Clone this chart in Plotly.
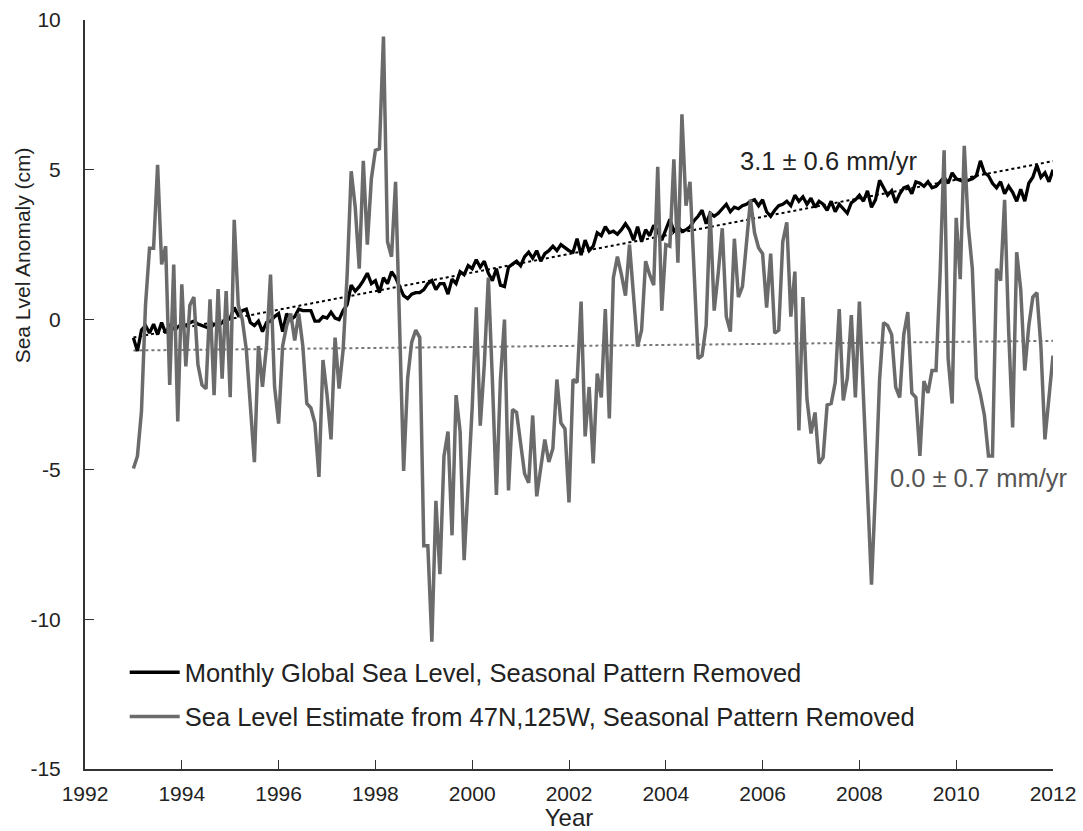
import plotly.graph_objects as go

# monthly values, Jan 1993 .. Jan 2012
global_sl = [
    -0.61, -1.05, -0.35, -0.2, -0.45, -0.15, -0.5, -0.1, -0.45, -0.2,
    -0.3, -0.25, -0.15, -0.2, -0.1, -0.05, -0.15, -0.2, -0.25, -0.3,
    -0.15, -0.2, -0.1, -0.05, 0.05, 0.4, 0.15, 0.3, 0.35, -0.1,
    -0.2, -0.05, -0.4, -0.1, -0.05, 0.1, 0.2, -0.4, 0.2, 0.0,
    0.1, 0.35, 0.3, 0.3, 0.3, -0.05, -0.05, 0.1, 0.05, 0.25,
    0.05, 0.0, 0.3, 0.5, 1.15, 0.95, 1.1, 1.3, 1.55, 1.2,
    1.3, 0.9, 1.4, 1.2, 1.6, 1.4, 1.1, 0.8, 0.7, 0.85,
    0.9, 0.9, 1.0, 1.2, 1.3, 1.0, 1.2, 1.2, 0.85, 1.35,
    1.2, 1.6, 1.5, 1.8, 1.7, 2.0, 1.75, 1.95, 1.55, 1.3,
    1.7, 1.15, 1.1, 1.75, 1.85, 1.95, 1.8, 2.1, 2.25, 2.05,
    2.3, 1.95, 2.2, 2.3, 2.45, 2.3, 2.5, 2.4, 2.3, 2.25,
    2.7, 2.15, 2.65, 2.3, 2.45, 2.9, 2.8, 3.1, 2.9, 2.95,
    2.85, 3.0, 3.2, 3.0, 2.65, 3.1, 2.6, 3.0, 2.8, 3.15,
    2.95, 2.65, 3.0, 3.35, 2.95, 3.1, 2.95, 3.0, 3.1, 3.3,
    3.45, 3.65, 3.2, 3.55, 3.45, 3.55, 3.7, 3.85, 3.6, 3.75,
    3.7, 3.8, 3.85, 3.95, 4.0, 3.8, 4.0, 3.6, 3.45, 3.65,
    3.8, 3.85, 3.95, 3.8, 4.15, 3.95, 4.1, 3.85, 4.05, 3.75,
    3.95, 3.85, 3.65, 3.95, 3.6, 3.85, 3.7, 3.55, 3.9, 4.0,
    4.15, 3.95, 4.3, 3.75, 4.0, 4.65, 4.4, 4.15, 4.3, 3.9,
    4.2, 4.4, 4.45, 4.2, 4.6, 4.55, 4.45, 4.6, 4.4, 4.45,
    4.6, 4.75, 4.55, 4.9, 4.7, 4.65, 4.6, 4.65, 4.7, 4.8,
    5.3, 4.9, 4.8, 4.55, 4.4, 4.6, 4.2, 4.45, 4.25, 3.95,
    4.35, 3.95, 4.55, 4.75, 5.15, 4.75, 4.9, 4.6, 5.0,
]

local_sl = [
    -4.97, -4.56, -3.06, 0.48, 2.38, 2.38, 5.17, 1.84, 2.45, -2.18,
    1.84, -3.40, 1.18, -1.56, 0.48, 0.75, -1.5, -2.18, -2.31, 0.68,
    -2.52, 1.02, -1.97, 0.95, -2.59, 3.33, 0.48, 0.0, -1.0, -2.8,
    -4.76, -0.88, -2.24, -0.88, 1.50, -2.24, -3.47, -0.88, -0.2, 0.2,
    -0.7, 0.2, -0.88, -2.8, -2.95, -3.45, -5.25, -1.35, -2.5, -4.0,
    -0.6, -2.3, -1.0, 1.5, 4.95, 3.75, 1.7, 5.3, 2.5, 4.7,
    5.65, 5.7, 9.45, 2.6, 2.1, 4.6, -0.75, -5.05, -1.95, -0.75,
    -0.35, -0.6, -7.55, -7.55, -10.75, -6.05, -8.5, -4.56, -3.74, -7.2,
    -2.52, -3.74, -8.03, -5.4, -2.93, 0.41, -3.54, -1.5, 1.4, -2.0,
    -5.85, -2.0, 0.0, -5.7, -3.0, -3.1, -4.2, -5.15, -5.45, -3.2,
    -5.9, -4.9, -4.0, -4.75, -4.3, -2.0, -3.45, -3.65, -6.1, -2.0,
    -2.1, 0.6, -3.9, -2.25, -4.8, -1.8, -2.6, 0.35, -3.3, 1.4,
    2.1, 1.5, 0.8, 2.5, 0.8, -0.9, -0.35, 1.95, 1.5, 1.15,
    5.1, 0.3, 2.5, 2.45, 5.35, 1.9, 6.85, 3.8, 4.6, 1.5,
    -1.3, -1.2, -0.2, 3.6, 0.3, 1.55, 3.05, 0.1, -0.4, 2.7,
    0.75, 1.1, 2.65, 4.0, 2.9, 2.4, 2.2, 0.4, 2.2, -0.45,
    -0.35, 2.6, 3.25, 0.1, 1.6, -3.7, 0.75, -2.65, -3.8, -3.1,
    -4.8, -4.6, -2.85, -2.8, -2.1, 0.35, -2.7, -1.95, 0.15, -2.6,
    0.6, -2.5, -5.5, -8.85, -5.65, -2.0, -0.1, -0.2, -0.5, -2.25,
    -2.6, -0.5, 0.25, -2.45, -2.6, -4.55, -2.05, -2.45, -1.7, -1.7,
    1.5, 5.65, -1.3, -2.8, 3.4, 1.35, 5.8, 3.1, 1.7, -1.95,
    -2.5, -3.2, -4.55, -4.55, 1.7, 1.3, 4.0, -0.35, -3.6, 2.25,
    1.0, -1.7, -0.2, 0.75, 0.9, -0.9, -4.0, -2.5, -1.2,
]

# time axis in decimal years (monthly steps)
months = [1993 + i / 12 for i in range(len(global_sl))]

trend_years = [1993, 2012]
global_trend = [-0.6, 5.29]
local_trend = [-1.03, -0.71]

year_ticks = list(range(1992, 2013, 2))
level_ticks = [-15, -10, -5, 0, 5, 10]
level_labels = ["-15", "-10", "-5", "0", "5", "10"]  # plain hyphen like the original

FONT = "Liberation Sans, Arial, sans-serif"

fig = go.Figure()

fig.add_trace(go.Scatter(x=trend_years, y=local_trend, mode="lines",
                         line=dict(color="#777777", width=2, dash="dot"),
                         showlegend=False))
fig.add_trace(go.Scatter(x=trend_years, y=global_trend, mode="lines",
                         line=dict(color="black", width=2, dash="dot"),
                         showlegend=False))

fig.add_trace(go.Scatter(x=months, y=global_sl, mode="lines",
                         name="Monthly Global Sea Level, Seasonal Pattern Removed",
                         legendgroup="a",
                         line=dict(color="black", width=3.3)))
fig.add_trace(go.Scatter(x=months, y=local_sl, mode="lines",
                         name="Sea Level Estimate from 47N,125W, Seasonal Pattern Removed",
                         legendgroup="b",
                         line=dict(color="#6b6b6b", width=3.5)))

fig.add_annotation(x=2007.37, y=5.3, text="3.1 ± 0.6 mm/yr", showarrow=False,
                   font=dict(family=FONT, size=25.5, color="#222222"))
fig.add_annotation(x=2010.47, y=-5.28, text="0.0 ± 0.7 mm/yr", showarrow=False,
                   font=dict(family=FONT, size=25.5, color="#555555"))
# y title sits above the middle of the axis in the original
fig.add_annotation(xref="paper", yref="paper", x=-0.065, y=0.539,
                   xanchor="center", yanchor="bottom",
                   text="Sea Lvel Anomaly (cm)", textangle=-90, showarrow=False,
                   font=dict(family=FONT, size=21, color="#222222"))

fig.update_xaxes(range=[1992, 2012], tickvals=year_ticks, ticks="inside", ticklen=9,
                 tickcolor="#333333", showline=True, linecolor="#333333", linewidth=2,
                 showgrid=False, zeroline=False, ticklabelstandoff=5, automargin=False,
                 tickfont=dict(family=FONT, size=21, color="#222222"),
                 title=dict(text="Year", font=dict(family=FONT, size=24, color="#222222"),
                            standoff=0))
fig.update_yaxes(range=[-15, 10], tickvals=level_ticks, ticktext=level_labels,
                 ticks="inside", ticklen=9, automargin=False,
                 tickcolor="#333333", showline=True, linecolor="#333333", linewidth=2,
                 showgrid=False, zeroline=False, ticklabelstandoff=18,
                 tickfont=dict(family=FONT, size=21, color="#222222"))

fig.update_layout(width=1083, height=831, autosize=False,
                  margin=dict(l=85, r=30, t=20, b=62, autoexpand=False),
                  plot_bgcolor="white", paper_bgcolor="white",
                  legend=dict(x=0.041, y=0.16, xanchor="left", yanchor="top",
                              bgcolor="rgba(0,0,0,0)", itemwidth=50,
                              tracegroupgap=8,
                              font=dict(family=FONT, size=25.5, color="#222222")))

# the page's default body margin would shift the figure by 8px
fig.write_html("out.html", config={"displayModeBar": False},
               post_script="document.body.style.margin='0';")
